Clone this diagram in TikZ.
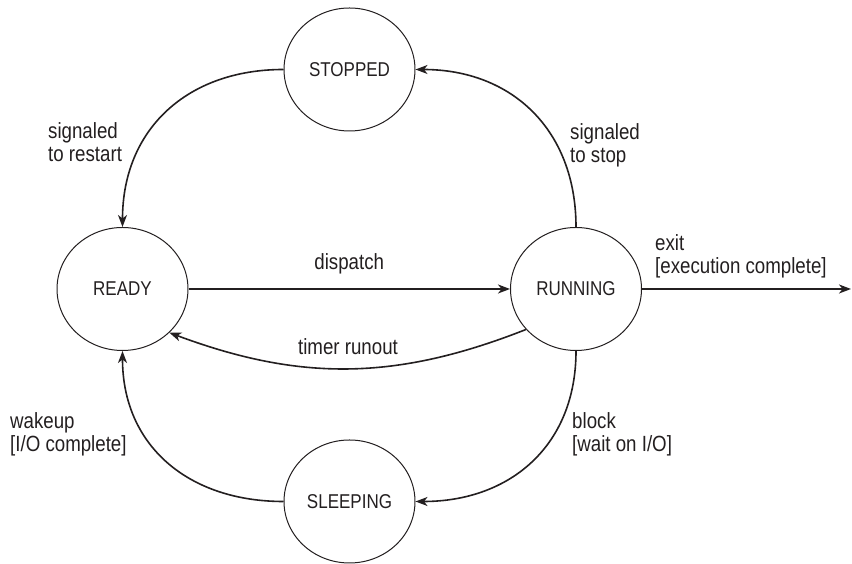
\documentclass[tikz,border=0pt]{standalone}
\usepackage{fontspec}
\setmainfont[FakeStretch=0.85]{Liberation Sans}
\usepackage{tikz}
\usetikzlibrary{positioning,arrows.meta,shapes.geometric}
\definecolor{inkc}{HTML}{231F20}
\tikzset{
  state/.style={draw=inkc,ellipse,line width=1pt,minimum width=131pt,minimum height=123pt,inner sep=0pt,text=inkc,font=\fontsize{20}{23}\selectfont},
  trans/.style={draw=inkc,line width=1.6pt,-{Stealth[length=12pt,width=9pt,inset=3.5pt]}},
  lbl/.style={inner sep=0pt,text=inkc,align=left,font=\fontsize{22}{23}\selectfont}
}

\begin{document}
\begin{tikzpicture}[x=1pt,y=1pt]
  \useasboundingbox (0,0) rectangle (852,564);
  % states
  \node[state] (stp) at (349.5,494.5) {STOPPED};
  \node[state] (rdy) at (122.5,275) {READY};
  \node[state] (run) at (576,275) {RUNNING};
  \node[state] (slp) at (349.5,62.5) {SLEEPING};
  \coordinate (exitpt) at (851,275);
  % transitions
  \draw[trans] (stp.west) to[out=180,in=90,looseness=1.1] (rdy.north);
  \draw[trans] (run.north) to[out=90,in=0,looseness=1.1] (stp.east);
  \draw[trans] (rdy.east) -- node[lbl,above=14pt] (dsp) {dispatch} (run.west);
  \draw[trans] (run.219) to[bend left=21] node[lbl,above=13pt] (tmr) {timer runout} (rdy.-43);
  \draw[trans] (run.south) to[out=-90,in=0,looseness=1.1] (slp.east);
  \draw[trans] (slp.west) to[out=180,in=-90,looseness=1.1] (rdy.south);
  \draw[trans] (run.east) -- (exitpt);
  % labels
  \node[lbl,anchor=north west] (lrst) at (48,442) {signaled\\to restart};
  \node[lbl,anchor=north west] (lstp) at (570,441) {signaled\\to stop};
  \node[lbl,anchor=north west] (lext) at (655,330) {exit\\{[execution complete]}};
  \node[lbl,anchor=north west] (lblk) at (572,152) {block\\{[wait on I/O]}};
  \node[lbl,anchor=north west] (lwak) at (10,152) {wakeup\\{[I/O complete]}};
\end{tikzpicture}
\end{document}
